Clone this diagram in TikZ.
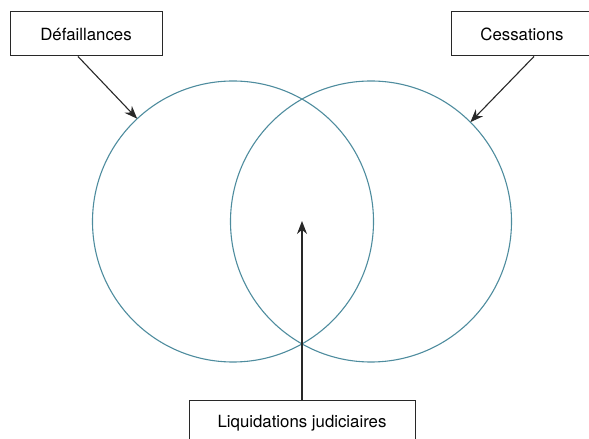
\documentclass[tikz,border=0pt]{standalone}
\usepackage{fontspec}
\setmainfont{TeX Gyre Heros}
\usetikzlibrary{positioning, arrows.meta}
\definecolor{myteal}{RGB}{78,140,158}
\definecolor{mygrey}{RGB}{40,40,40}

\begin{document}
\begin{tikzpicture}[
		x=0.5pt, y=0.5pt,
		box/.style={rectangle, draw=mygrey, line width=0.5pt, minimum height=22pt, text centered, inner sep=0pt, font=\fontsize{8.4}{10}\selectfont},
		set/.style={circle, draw=myteal, line width=0.55pt, minimum size=140.5pt, inner sep=0pt, outer sep=0pt},
		arrow/.style={draw=mygrey, line width=0.55pt, -{Stealth[length=6.5pt, width=5pt]}}
		]
		\clip (0,0) rectangle (589,439);
		
		% Sets
		\node[set] (leftset) at (233,217.5) {};
		\node[set] (rightset) at (371,217.5) {};
		\coordinate (overlap) at (302,218);
		
		% Labels
		\node[box, minimum width=76pt] (defaillances) at (86,405) {Défaillances};
		\node[box, minimum width=71pt] (cessations) at (522,405) {Cessations};
		\node[box, minimum width=113pt] (liquidations) at (302,16) {Liquidations judiciaires};
		
		% Arrows
		\draw[arrow] ([xshift=-4pt]defaillances.south) -- (leftset.133);
		\draw[arrow] ([xshift=6pt]cessations.south) -- (rightset.45);
		\draw[arrow] (liquidations.north) -- (overlap);
		
	\end{tikzpicture}
\end{document}
